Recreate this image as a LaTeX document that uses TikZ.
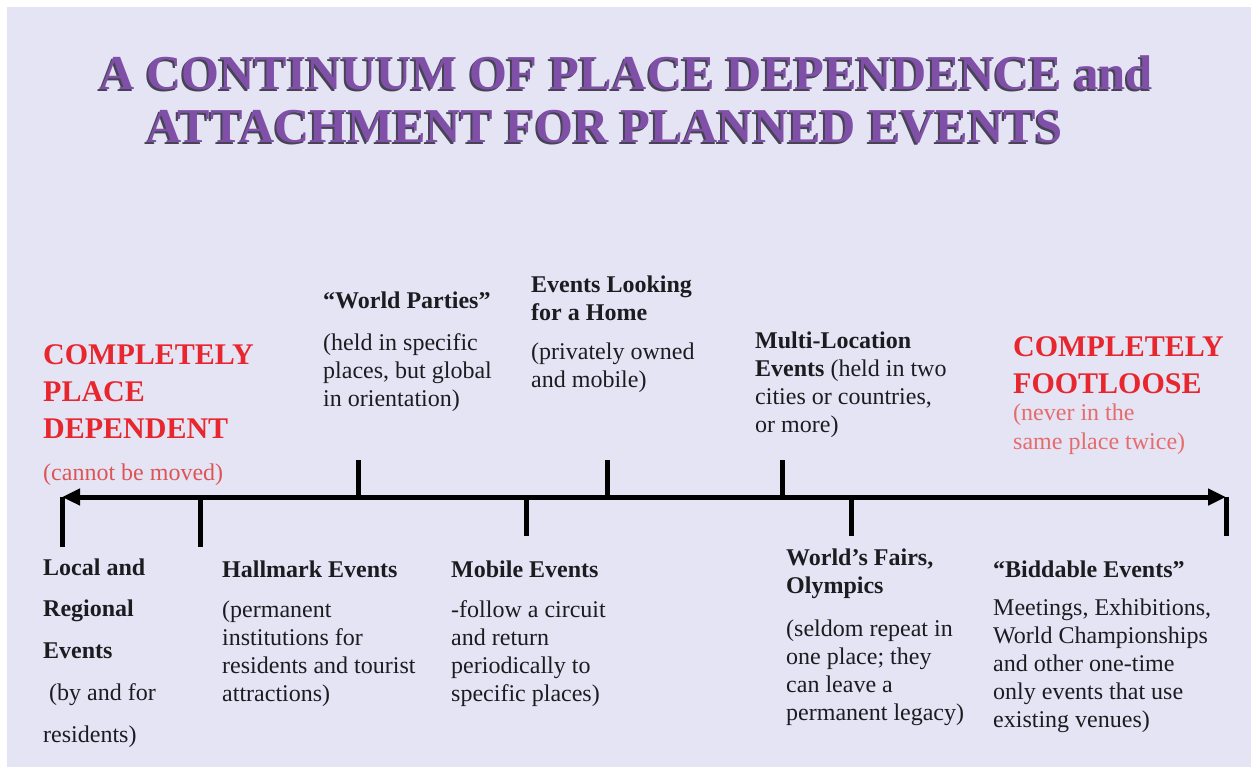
\documentclass[tikz,border=0pt]{standalone}
\usepackage{fontspec}
\setmainfont{Liberation Serif}
\usetikzlibrary{arrows.meta}

\definecolor{lavender}{RGB}{228,228,245}
\definecolor{titlepurple}{RGB}{128,80,168}
\definecolor{titleshadow}{RGB}{70,68,82}
\definecolor{headred}{RGB}{232,38,45}
\definecolor{notered}{RGB}{222,84,84}
\definecolor{notepink}{RGB}{230,108,108}
\definecolor{inkblack}{RGB}{28,28,32}

\begin{document}
\begin{tikzpicture}[x=1pt,y=-1pt,
	title_text/.style={anchor=base west,inner sep=0pt,font=\fontsize{48.7}{55}\selectfont\bfseries,text=titlepurple},
	title_shadow/.style={title_text,text=titleshadow},
	red_head/.style={anchor=base west,inner sep=0pt,align=left,font=\fontsize{30}{37}\selectfont\bfseries,text=headred},
	red_note/.style={anchor=base west,inner sep=0pt,align=left,font=\fontsize{24}{29}\selectfont,text=notered},
	item_text/.style={anchor=base west,inner sep=0pt,align=left,font=\fontsize{24}{28}\selectfont,text=inkblack},
	axis_line/.style={line width=5pt,{Triangle[length=18pt,width=16pt]}-{Triangle[length=18pt,width=16pt]}},
	tick_line/.style={line width=5pt}]

		% page and panel
		\fill[white] (0,0) rectangle (1258,772);
		\fill[lavender] (7,7) rectangle (1251,767);

		% heading with its drop shadow
		\node[title_shadow] (title_a_shadow) at (97,91) {A CONTINUUM OF PLACE DEPENDENCE and};
		\node[title_text] (title_a) at (99,89) {A CONTINUUM OF PLACE DEPENDENCE and};
		\node[title_shadow] (title_b_shadow) at (144,144) {ATTACHMENT FOR PLANNED EVENTS};
		\node[title_text] (title_b) at (146,142) {ATTACHMENT FOR PLANNED EVENTS};

		% the two ends of the scale (placed by their last line)
		\node[red_head] (dependent) at (43,438) {COMPLETELY\\PLACE\\DEPENDENT};
		\node[red_note] (dependent_note) at (43,480) {(cannot be moved)};
		\node[red_head] (footloose) at (1013,393) {COMPLETELY\\FOOTLOOSE};
		\node[red_note,text=notepink] (footloose_note) at (1013,449) {(never in the\\same place twice)};

		% labels above the line
		\node[item_text] (parties) at (323,406) {\textbf{“World Parties”}\\[14pt](held in specific\\places, but global\\in orientation)};
		\node[item_text] (home) at (531,387) {\textbf{Events Looking}\\\textbf{for a Home}\\[11pt](privately owned\\and mobile)};
		\node[item_text] (multi) at (755,432) {\textbf{Multi-Location}\\\textbf{Events} (held in two\\cities or countries,\\or more)};

		% labels below the line
		\node[item_text,font=\fontsize{24}{41.7}\selectfont] (local) at (43,742) {\textbf{Local and}\\\textbf{Regional}\\\textbf{Events}\\\hspace{6pt}(by and for\\residents)};
		\node[item_text] (hallmark) at (222,701) {\textbf{Hallmark Events}\\[12pt](permanent\\institutions for\\residents and tourist\\attractions)};
		\node[item_text] (mobile) at (451,701) {\textbf{Mobile Events}\\[12pt]-follow a circuit\\and return\\periodically to\\specific places)};
		\node[item_text] (fairs) at (786,720) {\textbf{World’s Fairs,}\\\textbf{Olympics}\\[15pt](seldom repeat in\\one place; they\\can leave a\\permanent legacy)};
		\node[item_text] (biddable) at (993,727) {\textbf{“Biddable Events”}\\[10pt]Meetings, Exhibitions,\\World Championships\\and other one-time\\only events that use\\existing venues)};

		% the continuum and its ticks
		\coordinate (axis_left) at (62,497);
		\coordinate (axis_right) at (1226,497);
		\coordinate (local_tick) at (62,547);
		\coordinate (hallmark_tick) at (200,547);
		\coordinate (parties_tick) at (358,460);
		\coordinate (mobile_tick) at (526,536);
		\coordinate (home_tick) at (607,460);
		\coordinate (multi_tick) at (782,460);
		\coordinate (fairs_tick) at (851,536);
		\coordinate (biddable_tick) at (1226,536);

		\draw[axis_line] (axis_left) -- (axis_right);
		\draw[tick_line] (axis_left) -- (local_tick);
		\draw[tick_line] (hallmark_tick |- axis_left) -- (hallmark_tick);
		\draw[tick_line] (parties_tick |- axis_left) -- (parties_tick);
		\draw[tick_line] (mobile_tick |- axis_left) -- (mobile_tick);
		\draw[tick_line] (home_tick |- axis_left) -- (home_tick);
		\draw[tick_line] (multi_tick |- axis_left) -- (multi_tick);
		\draw[tick_line] (fairs_tick |- axis_left) -- (fairs_tick);
		\draw[tick_line] (axis_right) -- (biddable_tick);
		\end{tikzpicture}
\end{document}
